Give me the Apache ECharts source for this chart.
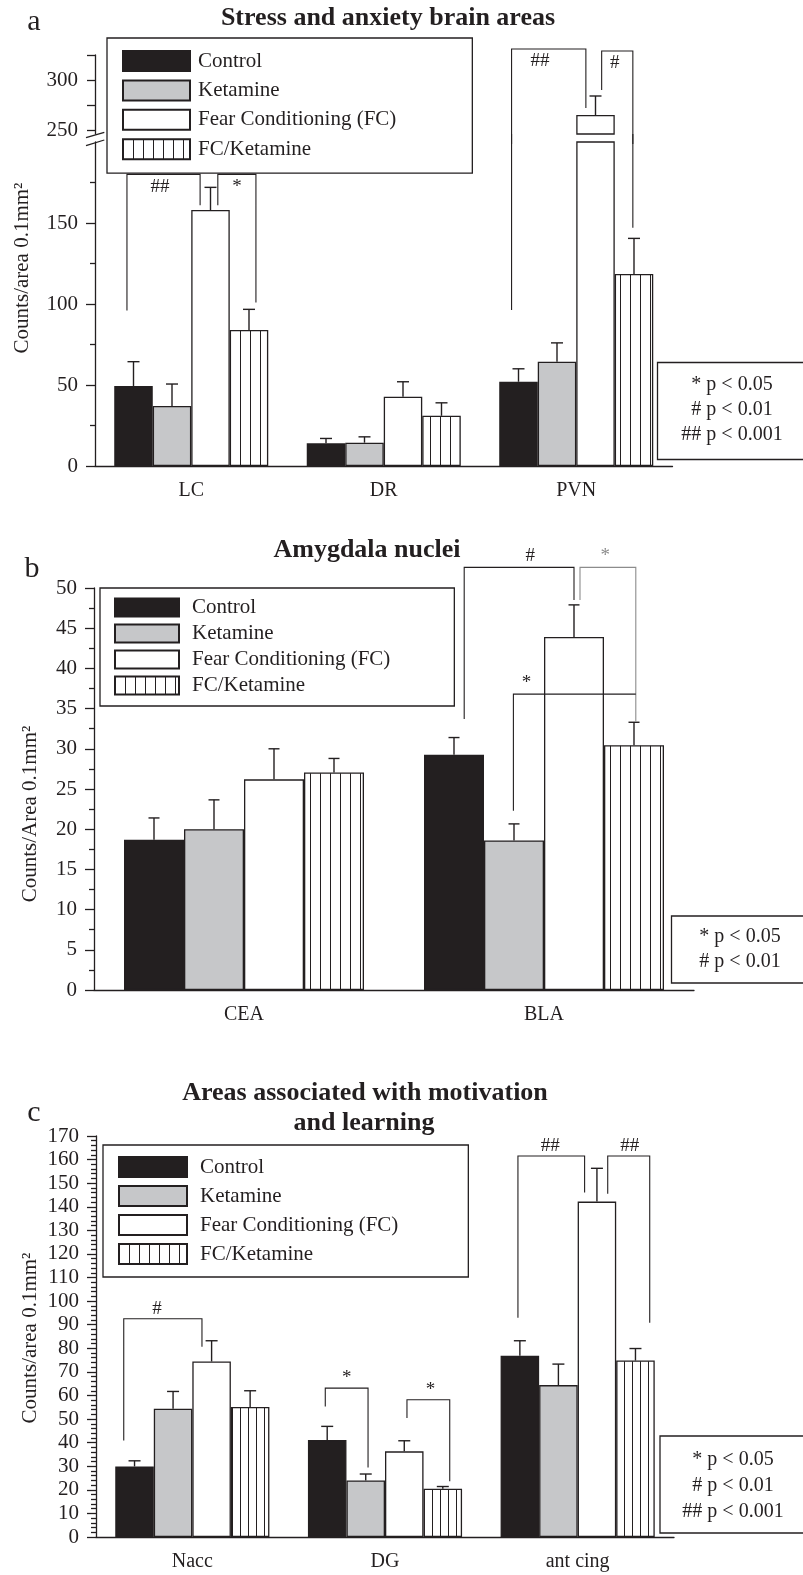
<!DOCTYPE html>
<html>
<head>
<meta charset="utf-8">
<script src="https://cdn.jsdelivr.net/npm/echarts@6.0.0/dist/echarts.min.js"></script>
<style>
html,body{margin:0;padding:0;background:#fff}
#chart{width:803px;height:1575px}
</style>
</head>
<body>
<div id="chart"></div>
<script>
var groups = ['Control', 'Ketamine', 'Fear Conditioning (FC)', 'FC/Ketamine'];

// a: stress and anxiety areas (rows = groups, cols = regions)
var catA = ['LC', 'DR', 'PVN'];
var meanA = [[49.4, 14, 52], [37, 14.4, 64.4], [158, 42.8, 265], [84, 31, 118.5]];
var semA = [[15, 3, 8], [13.6, 3.6, 11.6], [14, 9.2, 19], [12.7, 8, 22]];
// [cat, slotL, slotR, top, footL, footR, textSlot, text]
var bracketsALo = [[0, -0.17, 1.73, 180, 96, 161, 0.69, '##'], [0, 2.19, 3.18, 180, 161, 101, 2.69, '*'],
                   [2, -0.18, -0.18, 205, 96.3, 96.3, 0, ''], [2, 2.97, 2.97, 205, 147, 147, 0, '']];
var bracketsAHi = [[2, -0.18, 1.75, 331, 236, 272, 0.56, '##'], [2, 2.16, 2.97, 329, 290, 236, 2.5, '#']];
var pA = ['* p < 0.05', '# p < 0.01', '## p < 0.001'];

// b: amygdala nuclei
var catB = ['CEA', 'BLA'];
var meanB = [[18.7, 29.25], [20.0, 18.6], [26.2, 43.9], [27.05, 30.45]];
var semB = [[2.7, 2.15], [3.65, 2.06], [3.8, 4.0], [1.75, 2.85]];
var bracketsB = [[1, 0.17, 2.0, 52.56, 33.7, 48.5, 1.27, '#'], [1, 2.1, 3.03, 52.56, 48.5, 33.35, 2.52, '*'],
                 [1, 0.99, 3.03, 36.8, 22.3, 36.8, 1.21, '*']];
var faintB = [1];
var pB = ['* p < 0.05', '# p < 0.01'];

// c: motivation and learning
var catC = ['Nacc', 'DG', 'ant cing'];
var meanC = [[29.9, 41.1, 76.8], [54.4, 24.0, 64.4], [74.4, 36.3, 142.2], [55.1, 20.5, 74.8]];
var semC = [[2.4, 5.8, 6.4], [7.3, 2.7, 8.9], [8.8, 4.5, 14.1], [6.9, 0.9, 5.1]];
var bracketsC = [[0, -0.28, 1.75, 92.5, 40.9, 80.7, 0.58, '#'], [1, -0.05, 1.06, 63.1, 55.3, 29.5, 0.51, '*'],
                 [1, 2.07, 3.18, 58.2, 50.4, 23.6, 2.68, '*'], [2, -0.05, 1.68, 161.5, 93, 146, 0.79, '##'],
                 [2, 2.28, 3.37, 161.5, 145.5, 90.8, 2.85, '##']];
var pC = ['* p < 0.05', '# p < 0.01', '## p < 0.001'];

var ink = '#231f20';
var serif = '"Liberation Serif", "Times New Roman", serif';
var line = {color: ink, width: 1.3};

function stripes(step) {
    var c = document.createElement('canvas');
    c.width = step; c.height = 4;
    var g = c.getContext('2d');
    g.fillStyle = '#fff'; g.fillRect(0, 0, step, 4);
    g.fillStyle = ink; g.fillRect(0, 0, 1, 4);
    return {image: c, repeat: 'repeat'};
}

function slotX(api, cat, slot) {
    return api.coord([cat, 0])[0] + (slot - 1.5) * api.size([1, 0])[0] * 0.2;
}

function bars(xi, yi, means, step, keep) {
    var fills = [ink, '#c6c7c9', '#ffffff', stripes(step)];
    return groups.map(function (g, k) {
        return {
            type: 'bar', name: g, xAxisIndex: xi, yAxisIndex: yi, silent: true,
            barGap: '0%', barCategoryGap: '20%',
            data: means[k].map(function (v) { return keep(v) ? v : '-'; }),
            itemStyle: {color: fills[k], borderColor: ink, borderWidth: 1.3}
        };
    });
}

function errors(xi, yi, means, sems, cap, keep) {
    var out = [];
    means.forEach(function (row, k) {
        row.forEach(function (m, c) {
            var t = m + sems[k][c];
            if (keep(m, t)) out.push([c, k, m, t]);
        });
    });
    return {
        type: 'custom', xAxisIndex: xi, yAxisIndex: yi, silent: true, z: 3,
        data: out, encode: {x: 0, y: [2, 3]},
        renderItem: function (params, api) {
            var c = api.value(0);
            var x = slotX(api, c, api.value(1));
            var y1 = api.coord([c, api.value(2)])[1];
            var y2 = api.coord([c, api.value(3)])[1];
            var st = {stroke: ink, lineWidth: 1.4};
            return {type: 'group', children: [
                {type: 'line', shape: {x1: x, y1: y1, x2: x, y2: y2}, style: st},
                {type: 'line', shape: {x1: x - cap / 2, y1: y2, x2: x + cap / 2, y2: y2}, style: st}
            ]};
        }
    };
}

function brackets(xi, yi, list, dy, faint) {
    return {
        type: 'custom', xAxisIndex: xi, yAxisIndex: yi, silent: true, z: 4, clip: false,
        data: list.map(function (b) { return [b[0], b[3]]; }), encode: {x: 0, y: 1},
        renderItem: function (params, api) {
            var b = list[params.dataIndex];
            var col = faint && faint.indexOf(params.dataIndex) >= 0 ? '#8c8c8c' : ink;
            var xL = slotX(api, b[0], b[1]), xR = slotX(api, b[0], b[2]);
            var yT = api.coord([b[0], b[3]])[1];
            var yL = api.coord([b[0], b[4]])[1], yR = api.coord([b[0], b[5]])[1];
            var kids = [{type: 'polyline', shape: {points: [[xL, yL], [xL, yT], [xR, yT], [xR, yR]]},
                         style: {stroke: col, fill: null, lineWidth: 1.1}}];
            if (b[7]) {
                kids.push({type: 'text', x: slotX(api, b[0], b[6]), y: yT + dy,
                    style: {text: b[7], fill: col, font: '19px ' + serif, align: 'center', verticalAlign: 'middle'}});
            }
            return {type: 'group', children: kids};
        }
    };
}

function baseX(gi, cats) {
    return {type: 'category', gridIndex: gi, data: cats, position: 'bottom',
        axisLine: {onZero: false, lineStyle: line},
        axisTick: {length: 4, lineStyle: line},
        axisLabel: {color: ink, fontFamily: serif, fontSize: 20, margin: 15},
        splitLine: {show: false}};
}
function midX(gi, cats) {
    return {type: 'category', gridIndex: gi, data: cats, position: 'bottom',
        axisLine: {show: false, onZero: false}, axisLabel: {show: false},
        axisTick: {alignWithLabel: true, length: 9, lineStyle: line},
        splitLine: {show: false}};
}
function valY(gi, opt) {
    var y = {type: 'value', gridIndex: gi,
        axisLine: {show: true, lineStyle: line},
        axisTick: {show: true, length: 9, lineStyle: line},
        axisLabel: {color: ink, fontFamily: serif, fontSize: 21, margin: 17},
        splitLine: {show: false}};
    for (var k in opt) {
        if (typeof opt[k] === 'object' && y[k]) { for (var j in opt[k]) y[k][j] = opt[k][j]; }
        else y[k] = opt[k];
    }
    return y;
}
function legend(left, top, w, h, gap, pad, textPad) {
    return {data: groups, orient: 'vertical', left: left, top: top, icon: 'rect',
        itemWidth: w, itemHeight: h, itemGap: gap, padding: pad, selectedMode: false,
        borderColor: ink, borderWidth: 1.3,
        textStyle: {color: ink, fontFamily: serif, fontSize: 21, padding: [0, 0, 0, textPad]}};
}
function pBox(x, y, h, cx, ys, lines) {
    var kids = [{type: 'rect', shape: {x: x, y: y, width: 200, height: h}, style: {fill: null, stroke: ink, lineWidth: 1.3}}];
    lines.forEach(function (t, i) {
        kids.push({type: 'text', x: cx, y: ys[i], style: {text: t, fill: ink, font: '20px ' + serif, align: 'center', verticalAlign: 'middle'}});
    });
    return {type: 'group', children: kids};
}
function txt(x, y, t, font, rot) {
    return {type: 'text', x: x, y: y, rotation: rot || 0,
        style: {text: t, fill: ink, font: font, align: 'center', verticalAlign: 'middle'}};
}

var all = function () { return true; };
var loA = function (m, t) { return t === undefined ? true : t <= 200; };
var hiA = function (m) { return m >= 246; };

var chart = echarts.init(document.getElementById('chart'));
chart.setOption({
    animation: false,
    backgroundColor: '#fff',
    grid: [
        {left: 95, top: 142, width: 577.5, height: 324, outerBoundsMode: 'none'},
        {left: 95, top: 55, width: 577.5, height: 79, outerBoundsMode: 'none'},
        {left: 94, top: 588, width: 600, height: 402, outerBoundsMode: 'none'},
        {left: 96, top: 1136, width: 578, height: 401, outerBoundsMode: 'none'}
    ],
    xAxis: [
        baseX(0, catA), midX(0, catA),
        {type: 'category', gridIndex: 1, data: catA, show: false},
        baseX(2, catB), midX(2, catB),
        baseX(3, catC), midX(3, catC)
    ],
    yAxis: [
        valY(0, {min: 0, max: 200, interval: 50,
            axisTick: {customValues: [0, 50, 100, 150]}, axisLabel: {customValues: [0, 50, 100, 150]},
            minorTick: {show: true, splitNumber: 2, length: 5, lineStyle: line}}),
        valY(1, {min: 246, max: 325,
            axisTick: {length: 8, customValues: [250, 275, 300, 325]}, axisLabel: {customValues: [250, 300]}}),
        valY(2, {min: 0, max: 50, interval: 5,
            minorTick: {show: true, splitNumber: 2, length: 5, lineStyle: line}}),
        valY(3, {min: 0, max: 170, interval: 10,
            minorTick: {show: true, splitNumber: 5, length: 5, lineStyle: line}})
    ],
    legend: [
        legend(107, 38, 67, 20, 7.4, [12, 76, 13, 15], 3),
        legend(100, 588, 64, 18, 5, [9, 64, 10, 14], 8),
        legend(103, 1145, 68, 20, 7, [11, 70, 12, 15], 8)
    ],
    series: [].concat(
        bars(0, 0, meanA, 10, all),
        bars(2, 1, meanA, 10, hiA),
        bars(3, 2, meanB, 10, all),
        bars(5, 3, meanC, 8, all),
        [
            errors(0, 0, meanA, semA, 12, loA),
            errors(2, 1, meanA, semA, 12, hiA),
            errors(3, 2, meanB, semB, 11, all),
            errors(5, 3, meanC, semC, 12, all),
            brackets(0, 0, bracketsALo, 13),
            brackets(2, 1, bracketsAHi, 12),
            brackets(3, 2, bracketsB, -11, faintB),
            brackets(5, 3, bracketsC, -10)
        ]
    ),
    graphic: [
        txt(388, 18, 'Stress and anxiety brain areas', 'bold 26px ' + serif),
        txt(367, 550, 'Amygdala nuclei', 'bold 26px ' + serif),
        txt(365, 1093, 'Areas associated with motivation', 'bold 26px ' + serif),
        txt(364, 1123, 'and learning', 'bold 26px ' + serif),
        txt(34, 22, 'a', '30px ' + serif),
        txt(32, 569, 'b', '30px ' + serif),
        txt(34, 1113, 'c', '30px ' + serif),
        txt(22, 268, 'Counts/area 0.1mm²', '21px ' + serif, Math.PI / 2),
        txt(30, 814, 'Counts/Area 0.1mm²', '21px ' + serif, Math.PI / 2),
        txt(30, 1338, 'Counts/area 0.1mm²', '21px ' + serif, Math.PI / 2),
        pBox(657.5, 362.5, 97, 732, [385, 410, 435], pA),
        pBox(671.5, 916, 67, 740, [937, 962], pB),
        pBox(660, 1436, 97, 733, [1460, 1486, 1512], pC),
        {type: 'line', shape: {x1: 86, y1: 137.7, x2: 104.3, y2: 132.3}, style: {stroke: ink, lineWidth: 1.3}},
        {type: 'line', shape: {x1: 86, y1: 145.7, x2: 104.3, y2: 140}, style: {stroke: ink, lineWidth: 1.3}}
    ]
});
</script>
</body>
</html>
